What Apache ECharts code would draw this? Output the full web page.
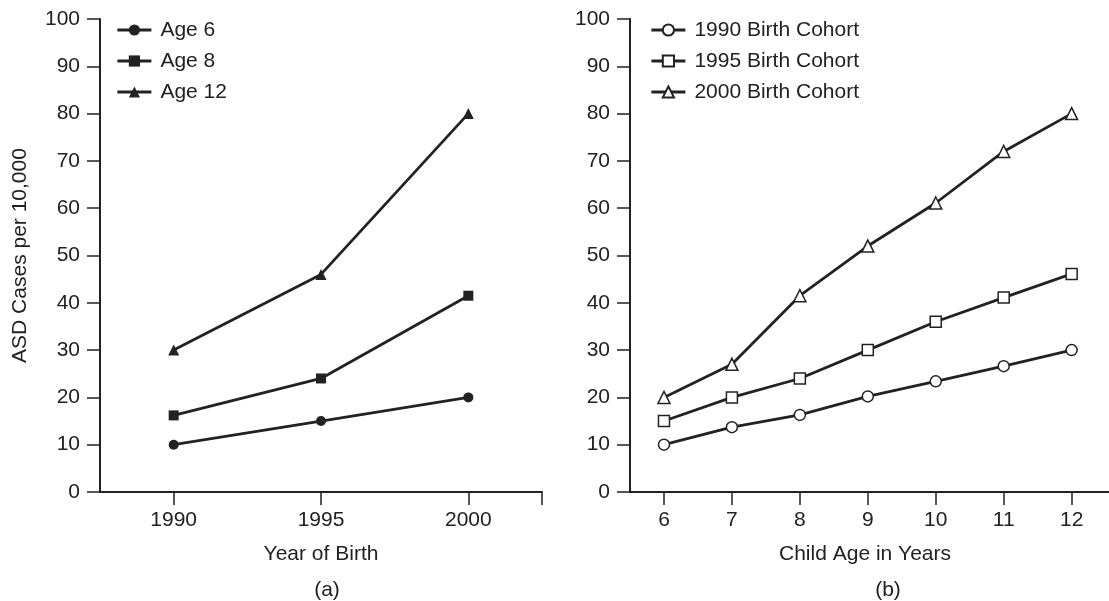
<!DOCTYPE html>
<html>
<head>
<meta charset="utf-8">
<script src="https://cdn.jsdelivr.net/npm/echarts@6/dist/echarts.min.js"></script>
<style>
html,body{margin:0;padding:0;background:#fff;}
#chart{width:1109px;height:601px;}
</style>
</head>
<body>
<div id="chart"></div>
<script>
// ---- Data ----
const yearsOfBirth = [1990, 1995, 2000];
const age6 = [10, 15, 20];
const age8 = [16.2, 24, 41.5];
const age12 = [30, 46, 80];

const childAges = [6, 7, 8, 9, 10, 11, 12];
const cohort1990 = [10, 13.7, 16.3, 20.2, 23.4, 26.6, 30];
const cohort1995 = [15, 20, 24, 30, 36, 41.1, 46.1];
const cohort2000 = [20, 27, 41.5, 52, 61.1, 72, 80];

const leftTickValues = [1990, 1995, 2000, 2002.5];

const INK = '#222';
const FONT = 'Liberation Sans, Arial, Helvetica, sans-serif';

function pairs(xs, ys) { return xs.map((x, i) => [x, ys[i]]); }

function yAxisCfg(idx, withName) {
  return {
    type: 'value', gridIndex: idx, min: 0, max: 100, interval: 10,
    name: withName ? 'ASD Cases per 10,000' : '',
    nameLocation: 'middle', nameGap: 69,
    nameTextStyle: { fontSize: 21, color: INK, fontFamily: FONT },
    axisLine: { show: true, lineStyle: { color: INK, width: 2 } },
    axisTick: { show: true, length: 13, inside: false, lineStyle: { color: INK, width: 1.5 } },
    axisLabel: { fontSize: 21, color: INK, fontFamily: FONT, margin: 20 },
    splitLine: { show: false }
  };
}

function lineSeries(name, xi, data, symbol, size, filled) {
  return {
    name, type: 'line', xAxisIndex: xi, yAxisIndex: xi, data,
    symbol, symbolSize: size, showSymbol: true,
    lineStyle: { color: INK, width: 2.8 },
    itemStyle: filled
      ? { color: INK, borderColor: INK, borderWidth: 0 }
      : { color: '#fff', borderColor: INK, borderWidth: 1.5 },
    z: 3
  };
}

const legendText = { fontSize: 21, color: INK, fontFamily: FONT, lineHeight: 22, padding: [0, 0, 0, 4] };

const chart = echarts.init(document.getElementById('chart'), null, { renderer: 'canvas' });
chart.setOption({
  backgroundColor: '#fff',
  animation: false,
  textStyle: { fontFamily: FONT, color: INK },
  title: [
    { text: '(a)', left: 322, top: 575, textAlign: 'center',
      textStyle: { fontSize: 21, fontWeight: 'normal', color: INK, fontFamily: FONT } },
    { text: '(b)', left: 883, top: 575, textAlign: 'center',
      textStyle: { fontSize: 21, fontWeight: 'normal', color: INK, fontFamily: FONT } }
  ],
  legend: [
    { data: ['Age 6', 'Age 8', 'Age 12'], orient: 'vertical', left: 116, top: 19, padding: 0,
      itemWidth: 34, itemHeight: 14, itemGap: 9,
      lineStyle: { width: 2.8, color: INK },
      textStyle: legendText },
    { data: ['1990 Birth Cohort', '1995 Birth Cohort', '2000 Birth Cohort'], orient: 'vertical', left: 650, top: 19, padding: 0,
      itemWidth: 34, itemHeight: 14, itemGap: 9,
      lineStyle: { width: 2.8, color: INK },
      textStyle: legendText }
  ],
  grid: [
    { left: 100, top: 19, width: 442, height: 473 },
    { left: 630, top: 19, width: 479, height: 473 }
  ],
  xAxis: [
    {
      type: 'value', gridIndex: 0, min: 1987.5, max: 2002.5,
      name: 'Year of Birth', nameLocation: 'middle', nameGap: 52,
      nameTextStyle: { fontSize: 21, color: INK, fontFamily: FONT },
      axisLine: { show: true, lineStyle: { color: INK, width: 2 } },
      axisTick: { show: true, length: 13, customValues: leftTickValues, lineStyle: { color: INK, width: 1.5 } },
      axisLabel: { fontSize: 21, color: INK, fontFamily: FONT, margin: 18, customValues: yearsOfBirth,
        formatter: v => String(v) },
      splitLine: { show: false }
    },
    {
      type: 'value', gridIndex: 1, min: 5.5, max: 12.55,
      name: 'Child Age in Years', nameLocation: 'middle', nameGap: 52,
      nameTextStyle: { fontSize: 21, color: INK, fontFamily: FONT, padding: [0, 0, 0, -9] },
      axisLine: { show: true, lineStyle: { color: INK, width: 2 } },
      axisTick: { show: true, length: 13, customValues: childAges, lineStyle: { color: INK, width: 1.5 } },
      axisLabel: { fontSize: 21, color: INK, fontFamily: FONT, margin: 18, customValues: childAges,
        formatter: v => String(v) },
      splitLine: { show: false }
    }
  ],
  yAxis: [yAxisCfg(0, true), yAxisCfg(1, false)],
  series: [
    lineSeries('Age 6', 0, pairs(yearsOfBirth, age6), 'circle', 10, true),
    lineSeries('Age 8', 0, pairs(yearsOfBirth, age8), 'rect', 10, true),
    lineSeries('Age 12', 0, pairs(yearsOfBirth, age12), 'triangle', 11, true),
    lineSeries('1990 Birth Cohort', 1, pairs(childAges, cohort1990), 'circle', 11, false),
    lineSeries('1995 Birth Cohort', 1, pairs(childAges, cohort1995), 'rect', 11, false),
    lineSeries('2000 Birth Cohort', 1, pairs(childAges, cohort2000), 'triangle', 12, false)
  ]
});
</script>
</body>
</html>
